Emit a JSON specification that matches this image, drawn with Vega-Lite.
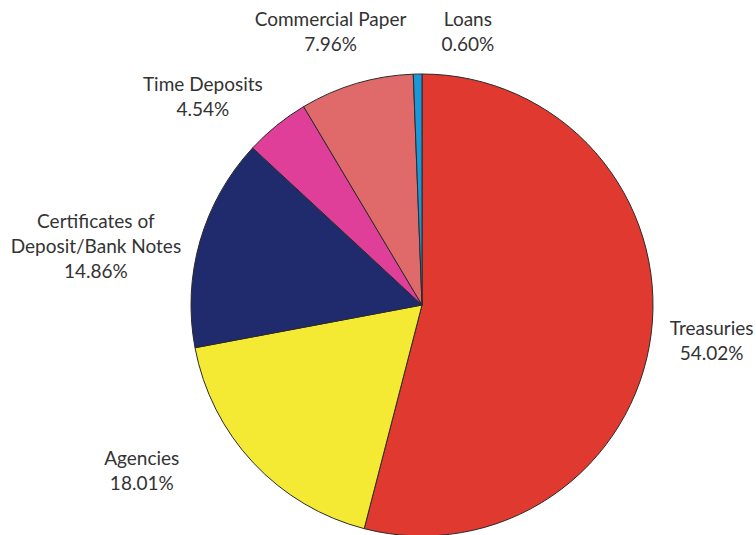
{
  "$schema": "https://vega.github.io/schema/vega-lite/v6.json",
  "autosize": {"type": "none"},
  "width": 668,
  "height": 460,
  "padding": {"left": 88, "top": 75, "right": 0, "bottom": 0},
  "background": "white",
  "config": {"view": {"stroke": null}},
  "data": {
    "values": [
      {"idx": 1, "category": "Treasuries", "value": 54.02, "label": "Treasuries\n54.02%"},
      {"idx": 2, "category": "Agencies", "value": 18.01, "label": "Agencies\n18.01%"},
      {"idx": 3, "category": "Certificates of Deposit/Bank Notes", "value": 14.86, "label": "Certificates of\nDeposit/Bank Notes\n14.86%"},
      {"idx": 4, "category": "Time Deposits", "value": 4.54, "label": "Time Deposits\n4.54%"},
      {"idx": 5, "category": "Commercial Paper", "value": 7.96, "label": "Commercial Paper\n7.96%"},
      {"idx": 6, "category": "Loans", "value": 0.60, "label": "Loans\n0.60%"}
    ]
  },
  "encoding": {
    "theta": {"field": "value", "type": "quantitative", "stack": true},
    "order": {"field": "idx", "type": "quantitative"}
  },
  "layer": [
    {
      "mark": {"type": "arc", "outerRadius": 231, "stroke": "#2b2b2b", "strokeWidth": 1},
      "encoding": {
        "color": {
          "field": "category", "type": "nominal", "legend": null,
          "scale": {
            "domain": ["Treasuries", "Agencies", "Certificates of Deposit/Bank Notes", "Time Deposits", "Commercial Paper", "Loans"],
            "range": ["#e0392f", "#f4ea34", "#1f2b6d", "#df3f98", "#e06a6a", "#1b96d6"]
          }
        }
      }
    },
    {
      "mark": {"type": "text", "radius": 292, "dx": 0, "dy": -12.5, "lineBreak": "\n", "lineHeight": 25, "font": "Lato", "fontSize": 19, "fill": "#333333", "align": "center", "baseline": "middle"},
      "encoding": {"text": {"condition": {"test": "datum.category == 'Treasuries'", "field": "label"}, "value": ""}}
    },
    {
      "mark": {"type": "text", "radius": 318, "dx": -48, "dy": -63.5, "lineBreak": "\n", "lineHeight": 25, "font": "Lato", "fontSize": 19, "fill": "#333333", "align": "center", "baseline": "middle"},
      "encoding": {"text": {"condition": {"test": "datum.category == 'Agencies'", "field": "label"}, "value": ""}}
    },
    {
      "mark": {"type": "text", "radius": 329, "dx": -10, "dy": 8, "lineBreak": "\n", "lineHeight": 25, "font": "Lato", "fontSize": 19, "fill": "#333333", "align": "center", "baseline": "middle"},
      "encoding": {"text": {"condition": {"test": "datum.category == 'Certificates of Deposit/Bank Notes'", "field": "label"}, "value": ""}}
    },
    {
      "mark": {"type": "text", "radius": 299, "dx": -31, "dy": 12.5, "lineBreak": "\n", "lineHeight": 25, "font": "Lato", "fontSize": 19, "fill": "#333333", "align": "center", "baseline": "middle"},
      "encoding": {"text": {"condition": {"test": "datum.category == 'Time Deposits'", "field": "label"}, "value": ""}}
    },
    {
      "mark": {"type": "text", "radius": 287, "dx": -10, "dy": -9.5, "lineBreak": "\n", "lineHeight": 25, "font": "Lato", "fontSize": 19, "fill": "#333333", "align": "center", "baseline": "middle"},
      "encoding": {"text": {"condition": {"test": "datum.category == 'Commercial Paper'", "field": "label"}, "value": ""}}
    },
    {
      "mark": {"type": "text", "radius": 272, "dx": 51, "dy": -13.5, "lineBreak": "\n", "lineHeight": 25, "font": "Lato", "fontSize": 19, "fill": "#333333", "align": "center", "baseline": "middle"},
      "encoding": {"text": {"condition": {"test": "datum.category == 'Loans'", "field": "label"}, "value": ""}}
    }
  ]
}
